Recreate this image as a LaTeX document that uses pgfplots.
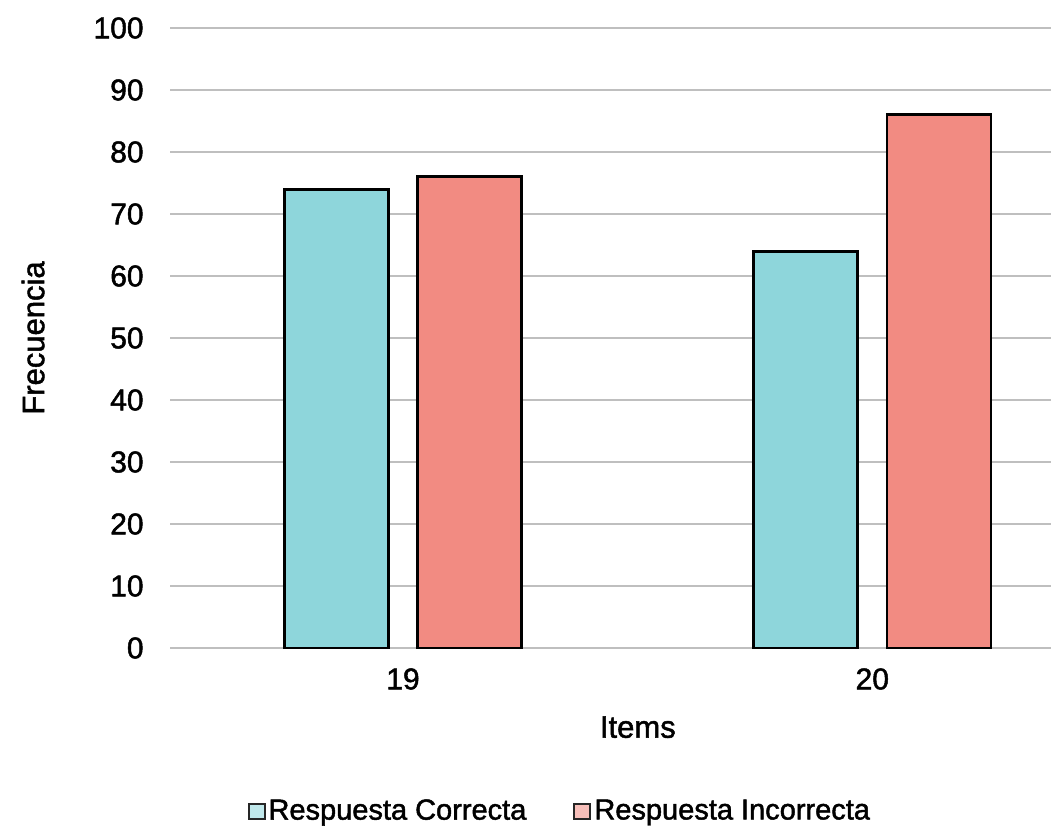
\documentclass[border=0pt]{standalone}
\usepackage{pgfplots}
\pgfplotsset{compat=1.18}
\usepackage{fontspec}
\setmainfont{Liberation Sans}[FakeBold=1.6]
\definecolor{correcta}{RGB}{142,214,219}
\definecolor{incorrecta}{RGB}{242,139,130}
\definecolor{gridgray}{RGB}{191,191,191}
\newcommand{\lbl}{\fontsize{15.5}{18}\selectfont}
\newcommand{\tck}{\fontsize{15}{18}\selectfont}
\newcommand{\leg}{\fontsize{14.5}{17}\selectfont}
\begin{document}
\begin{tikzpicture}
\useasboundingbox (0,0) rectangle (525.5pt,-414pt);
\begin{axis}[
  at={(85pt,-324pt)}, anchor=south west,
  scale only axis, width=440.5pt, height=310pt,
  xmin=-0.4965, xmax=1.3808, ymin=0, ymax=100,
  ytick={0,10,...,100}, xtick={0,1}, xticklabels={19,20},
  ymajorgrids, grid style={gridgray, line width=1pt},
  axis line style={draw=none}, major tick length=0pt,
  /pgf/number format/assume math mode=true,
  tick label style={font=\tck, inner sep=0pt},
  yticklabel style={xshift=-13pt},
  xticklabel style={yshift=-10pt},
  xlabel={Items},
  xlabel style={at={(axis description cs:0.531,0)}, anchor=north, yshift=-34pt, inner sep=0pt, font=\lbl},
  ylabel={Frecuencia},
  ylabel style={at={(axis description cs:-0.142,0.5)}, anchor=south, inner sep=0pt, font=\lbl},
  ybar, bar width=52pt,
  legend columns=2,
  legend style={draw=none, at={(axis description cs:0.443,0)}, anchor=center, yshift=-81.5pt,
    font=\leg, /tikz/every even column/.append style={column sep=22pt},
    nodes={inner sep=1.5pt}},
  legend image code/.code={\draw[#1, line width=1pt, draw=black!85, fill opacity=0.55] (0pt,-3.75pt) rectangle (8pt,3.75pt);},
]
\addplot[bar shift=-33.4pt, fill=correcta, draw=black, line width=1.4pt]
  coordinates {(0,74) (1,64)};
\addplot[bar shift=33.4pt, fill=incorrecta, draw=black, line width=1.4pt]
  coordinates {(0,76) (1,86)};
\legend{Respuesta Correcta, Respuesta Incorrecta}
\end{axis}
\end{tikzpicture}
\end{document}
